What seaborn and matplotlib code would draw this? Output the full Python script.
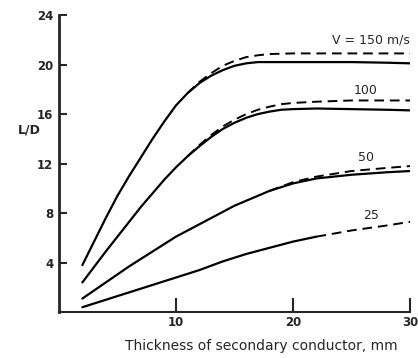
import numpy as np
import pandas as pd
import seaborn as sns
import matplotlib
matplotlib.use("Agg")
import matplotlib.pyplot as plt

# thickness of secondary conductor, mm
thick = [2, 3, 4, 5, 6, 7, 8, 9, 10, 11, 12, 13, 14, 15, 16, 17, 18, 19, 20, 22, 25, 28, 30]

# L/D (solid curves)
ld_150 = [3.8, 5.7, 7.6, 9.4, 11.0, 12.5, 14.0, 15.4, 16.7, 17.7, 18.5, 19.1, 19.55,
          19.9, 20.1, 20.2, 20.2, 20.2, 20.2, 20.2, 20.2, 20.15, 20.1]
ld_100 = [2.4, 3.65, 4.9, 6.1, 7.3, 8.5, 9.6, 10.7, 11.7, 12.6, 13.4, 14.15, 14.8,
          15.3, 15.7, 16.0, 16.2, 16.35, 16.4, 16.45, 16.4, 16.35, 16.3]
ld_50 = [1.1, 1.75, 2.4, 3.05, 3.7, 4.3, 4.9, 5.5, 6.1, 6.6, 7.1, 7.6, 8.1,
         8.6, 9.0, 9.4, 9.8, 10.1, 10.4, 10.8, 11.1, 11.3, 11.4]
ld_25 = [0.4, 0.7, 1.0, 1.3, 1.6, 1.9, 2.2, 2.5, 2.8, 3.1, 3.4, 3.75, 4.1,
         4.4, 4.7, 4.95, 5.2, 5.45, 5.7, 6.1, 6.6, 7.0, 7.3]

# dashed curves (where they separate from the solid ones)
thick_d150 = [11, 12, 13, 14, 15, 16, 17, 18, 20, 22, 25, 28, 30]
ld_d150 = [17.7, 18.6, 19.3, 19.9, 20.3, 20.6, 20.75, 20.85, 20.9, 20.9, 20.9, 20.9, 20.9]
thick_d100 = [11, 12, 13, 14, 15, 16, 17, 18, 19, 20, 22, 25, 30]
ld_d100 = [12.6, 13.5, 14.3, 15.0, 15.55, 16.0, 16.35, 16.6, 16.8, 16.9, 17.0, 17.1, 17.1]
thick_d50 = [18, 19, 20, 22, 25, 28, 30]
ld_d50 = [9.8, 10.15, 10.5, 10.95, 11.4, 11.65, 11.8]
thick_d25 = [22, 25, 28, 30]
ld_d25 = [6.1, 6.6, 7.0, 7.3]

speeds = ["V = 150 m/s", "100", "50", "25"]

sns.set_style("ticks")
plt.rcParams["font.family"] = ["DejaVu Sans"]

fig = plt.figure(figsize=(4.18, 3.58), dpi=100)
ax = fig.add_axes([0.141, 0.128, 0.84, 0.83])

# solid curves (25 stops where the dashed part begins)
sns.lineplot(x=thick, y=ld_150, color="black", lw=1.6, ax=ax)
sns.lineplot(x=thick, y=ld_100, color="black", lw=1.6, ax=ax)
sns.lineplot(x=thick, y=ld_50, color="black", lw=1.6, ax=ax)
sns.lineplot(x=thick[:20], y=ld_25[:20], color="black", lw=1.6, ax=ax)

# dashed curves
for xs, ys in [(thick_d150, ld_d150), (thick_d100, ld_d100),
               (thick_d50, ld_d50), (thick_d25, ld_d25)]:
    sns.lineplot(x=xs, y=ys, color="black", lw=1.4, linestyle=(0, (5, 3)), ax=ax)

ax.text(23.3, 22.0, speeds[0], fontsize=9, va="center", ha="left")
ax.text(26.2, 17.9, speeds[1], fontsize=9, va="center", ha="center")
ax.text(26.2, 12.5, speeds[2], fontsize=9, va="center", ha="center")
ax.text(26.7, 7.8, speeds[3], fontsize=9, va="center", ha="center")

ax.set_xlim(0, 30)
ax.set_ylim(0, 24)
ax.set_xticks([10, 20, 30])
ax.set_yticks([4, 8, 12, 16, 20, 24])
ax.tick_params(axis="y", direction="in", length=6, width=1.5, labelsize=8.5, pad=4)
ax.tick_params(axis="x", direction="in", length=10, width=1.5, labelsize=8.5, pad=3)
for lab in ax.get_xticklabels() + ax.get_yticklabels():
    lab.set_fontweight("bold")

ax.set_xlabel("Thickness of secondary conductor, mm", fontsize=10)
ax.xaxis.set_label_coords(0.575, -0.09)
ax.set_ylabel("L/D", rotation=0, fontsize=9, fontweight="bold")
ax.yaxis.set_label_coords(-0.083, 0.59)

sns.despine(ax=ax)
ax.spines["left"].set_linewidth(2)
ax.spines["bottom"].set_linewidth(1.5)

fig.savefig("out.png", dpi=100)
